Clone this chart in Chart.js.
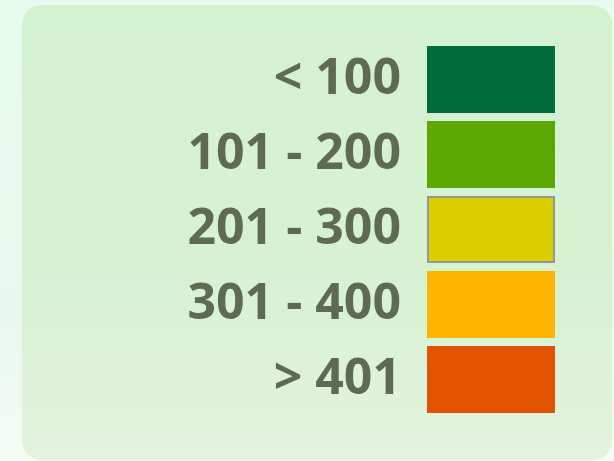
<!DOCTYPE html>
<html>
<head>
<meta charset="utf-8">
<script src="https://cdn.jsdelivr.net/npm/chart.js@4"></script>
<style>
  html, body { margin: 0; padding: 0; }
  body {
    width: 614px; height: 461px; overflow: hidden; position: relative;
    background: linear-gradient(180deg, #e7fcef 0%, #eaf9ef 70%, #f5fbf5 100%);
  }
  .panel {
    position: absolute; left: 22px; top: 5px; width: 590px; height: 455px;
    border-radius: 20px;
    background: linear-gradient(180deg, #d3f2d0 0%, #d6f2d3 60%, #e4f3dd 100%);
  }
  .wrap { position: absolute; left: 0; top: 0; width: 614px; height: 461px; }
</style>
</head>
<body>
<div class="panel"></div>
<div class="wrap"><canvas id="legendChart"></canvas></div>
<script>
"use strict";

// legend categories and swatch colours
var categories = ['< 100', '101 - 200', '201 - 300', '301 - 400', '> 401'];
var swatchValues = [1, 1, 1, 1, 1];
var swatchColors = ['#006b3b', '#5aa800', '#dccf00', '#fdb500', '#e05400'];
var swatchBorders = [0, 0, 2, 0, 0];

var textColor = '#5e6b50';

var ctx = document.getElementById('legendChart');

var myChart = new Chart(ctx, {
    type: 'bar',
    data: {
        labels: categories,
        datasets: [{
            data: swatchValues,
            backgroundColor: swatchColors,
            borderColor: '#969696',
            borderWidth: swatchBorders,
            borderSkipped: false,
            categoryPercentage: 1,
            barPercentage: 0.893
        }]
    },
    options: {
        indexAxis: 'y',
        responsive: true,
        maintainAspectRatio: false,
        animation: false,
        layout: {
            padding: { top: 42, bottom: 44, right: 59, left: 0 }
        },
        plugins: {
            legend: { display: false },
            tooltip: { enabled: false }
        },
        scales: {
            x: {
                display: false,
                min: 0,
                max: 1
            },
            y: {
                grid: { display: false },
                border: { display: false },
                afterFit: function (scale) {
                    scale.width = 427; // swatches start at x=427
                },
                ticks: {
                    padding: 18,
                    color: textColor,
                    font: { family: 'Open Sans', size: 50, weight: 'bold', lineHeight: 0.6 }
                }
            }
        }
    }
});
</script>
</body>
</html>
